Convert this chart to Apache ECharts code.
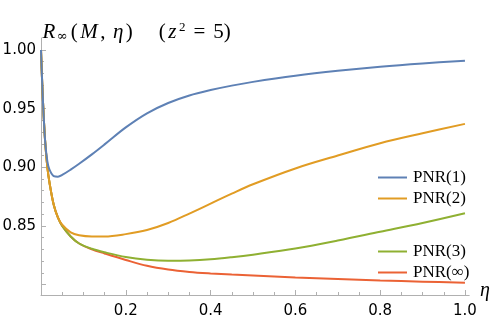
<!DOCTYPE html>
<html>
<head>
<meta charset="utf-8">
<script src="https://cdn.jsdelivr.net/npm/echarts@6/dist/echarts.min.js"></script>
<style>
  html, body { margin: 0; padding: 0; background: #fff; }
  #main { width: 498px; height: 324px; }
</style>
</head>
<body>
<div id="main"></div>
<script>
// eta values (x) and R_inf for each PNR curve
var etas = [0, 0.003, 0.006, 0.01, 0.015, 0.02, 0.03, 0.04, 0.05, 0.07, 0.09, 0.12, 0.15, 0.2, 0.25, 0.3, 0.35, 0.4, 0.45, 0.5, 0.6, 0.7, 0.8, 0.9, 1.0]
var pnr1 = [1.000, 0.970, 0.946, 0.921, 0.905, 0.898, 0.8925, 0.892, 0.8935, 0.898, 0.903, 0.911, 0.9195, 0.934, 0.946, 0.9548, 0.9612, 0.9658, 0.9696, 0.9728, 0.978, 0.9822, 0.9857, 0.9885, 0.9908]
var pnr2 = [1.000, 0.970, 0.946, 0.921, 0.900, 0.887, 0.868, 0.857, 0.851, 0.8445, 0.842, 0.841, 0.841, 0.843, 0.8465, 0.8525, 0.8605, 0.869, 0.8775, 0.8855, 0.899, 0.910, 0.9205, 0.929, 0.937]
var pnr3 = [1.000, 0.970, 0.946, 0.921, 0.900, 0.887, 0.868, 0.857, 0.850, 0.841, 0.835, 0.8305, 0.8275, 0.8235, 0.8212, 0.8203, 0.8205, 0.8215, 0.8233, 0.8255, 0.8307, 0.8375, 0.845, 0.8525, 0.8608]
var pnrInf = [1.000, 0.970, 0.946, 0.921, 0.900, 0.887, 0.868, 0.857, 0.850, 0.841, 0.835, 0.830, 0.8265, 0.821, 0.816, 0.8128, 0.8108, 0.8095, 0.8085, 0.8077, 0.806, 0.8047, 0.8035, 0.8025, 0.8015]

var names = ['PNR(1)', 'PNR(2)', 'PNR(3)', 'PNR(∞)']
var colors = ['#5e81b5', '#e19c24', '#8fb032', '#eb6235']

var xMajor = [0.2, 0.4, 0.6, 0.8, 1.0]
var xMinor = [0.05, 0.1, 0.15, 0.25, 0.3, 0.35, 0.45, 0.5, 0.55, 0.65, 0.7, 0.75, 0.85, 0.9, 0.95]
var yMajorTicks = [0.80, 0.85, 0.90, 0.95, 1.00]
var yLabels = [0.85, 0.90, 0.95, 1.00]
var yMinor = [0.81, 0.82, 0.83, 0.84, 0.86, 0.87, 0.88, 0.89, 0.91, 0.92, 0.93, 0.94, 0.96, 0.97, 0.98, 0.99]

function pairs(ys) {
  return etas.map(function (x, i) { return [x, ys[i]] })
}

var axisColor = '#b0b0b0'
var legendText = { fontFamily: 'Liberation Serif', fontSize: 17, color: '#000', lineHeight: 17, padding: [0, 0, 0, 1] }

var chart = echarts.init(document.getElementById('main'), null, { renderer: 'canvas' })
chart.setOption({
  animation: false,
  grid: { left: 41, right: 28.8, top: 38, bottom: 29, containLabel: false, outerBoundsMode: 'none' },
  xAxis: [
    {
      type: 'value', min: 0, max: 1.01,
      axisLine: { lineStyle: { color: axisColor, width: 1 } },
      axisTick: { inside: true, length: 5, customValues: xMajor, lineStyle: { color: axisColor } },
      axisLabel: {
        customValues: xMajor, margin: 9, formatter: function (v) { return v.toFixed(1) },
        fontFamily: 'DejaVu Sans', fontSize: 15, color: '#000'
      },
      splitLine: { show: false }
    },
    {
      type: 'value', min: 0, max: 1.01, position: 'bottom',
      axisLine: { show: false },
      axisTick: { inside: true, length: 3, customValues: xMinor, lineStyle: { color: axisColor } },
      axisLabel: { show: false },
      splitLine: { show: false }
    }
  ],
  yAxis: [
    {
      type: 'value', min: 0.7911, max: 1.0102,
      axisLine: { lineStyle: { color: axisColor, width: 1 } },
      axisTick: { inside: true, length: 5, customValues: yMajorTicks, lineStyle: { color: axisColor } },
      axisLabel: {
        customValues: yLabels, margin: 5, formatter: function (v) { return v.toFixed(2) },
        fontFamily: 'DejaVu Sans', fontSize: 15, color: '#000'
      },
      splitLine: { show: false }
    },
    {
      type: 'value', min: 0.7911, max: 1.0102, position: 'left',
      axisLine: { show: false },
      axisTick: { inside: true, length: 3, customValues: yMinor, lineStyle: { color: axisColor } },
      axisLabel: { show: false },
      splitLine: { show: false }
    }
  ],
  legend: [
    {
      data: [names[0], names[1]], orient: 'vertical', left: 373, top: 164,
      icon: 'rect', itemWidth: 29, itemHeight: 2, itemGap: 4, textStyle: legendText
    },
    {
      data: [names[2], names[3]], orient: 'vertical', left: 373, top: 238,
      icon: 'rect', itemWidth: 29, itemHeight: 2, itemGap: 4, textStyle: legendText
    }
  ],
  graphic: [
    {
      type: 'text', left: 41, top: 21,
      style: {
        text: '{i|R}{s|∞}{n|(}{i|M}{c|,}{i|η}{n|)}{g| }{n|(}{i|z}{p|2}{e|=}{n|5)}',
        rich: {
          i: { fontFamily: 'Liberation Serif', fontStyle: 'italic', fontSize: 21, lineHeight: 22, fill: '#000', padding: [0, 1.5, 0, 1.5] },
          n: { fontFamily: 'Liberation Serif', fontSize: 21, lineHeight: 22, fill: '#000', padding: [0, 1, 0, 1] },
          c: { fontFamily: 'Liberation Serif', fontSize: 21, lineHeight: 22, fill: '#000', padding: [0, 6, 0, 1] },
          e: { fontFamily: 'Liberation Serif', fontSize: 21, lineHeight: 22, fill: '#000', padding: [0, 7, 0, 7] },
          g: { fontFamily: 'Liberation Serif', fontSize: 21, lineHeight: 22, width: 24 },
          s: { fontFamily: 'DejaVu Serif', fontSize: 13, lineHeight: 22, verticalAlign: 'bottom', padding: [9, 2, 0, 0], fill: '#000' },
          p: { fontFamily: 'Liberation Serif', fontSize: 13, lineHeight: 22, verticalAlign: 'top', padding: [0, 1, 9, 1], fill: '#000' }
        }
      }
    },
    {
      type: 'text', left: 480, top: 281,
      style: { text: 'η', font: 'italic 20px "Liberation Serif"', fill: '#000' }
    }
  ],
  series: [pnr1, pnr2, pnr3, pnrInf].map(function (ys, i) {
    return {
      name: names[i], type: 'line', data: pairs(ys),
      xAxisIndex: 0, yAxisIndex: 0,
      showSymbol: false, smooth: 0.35,
      lineStyle: { color: colors[i], width: 2 },
      itemStyle: { color: colors[i] },
      z: 10 - i
    }
  })
})
</script>
</body>
</html>
